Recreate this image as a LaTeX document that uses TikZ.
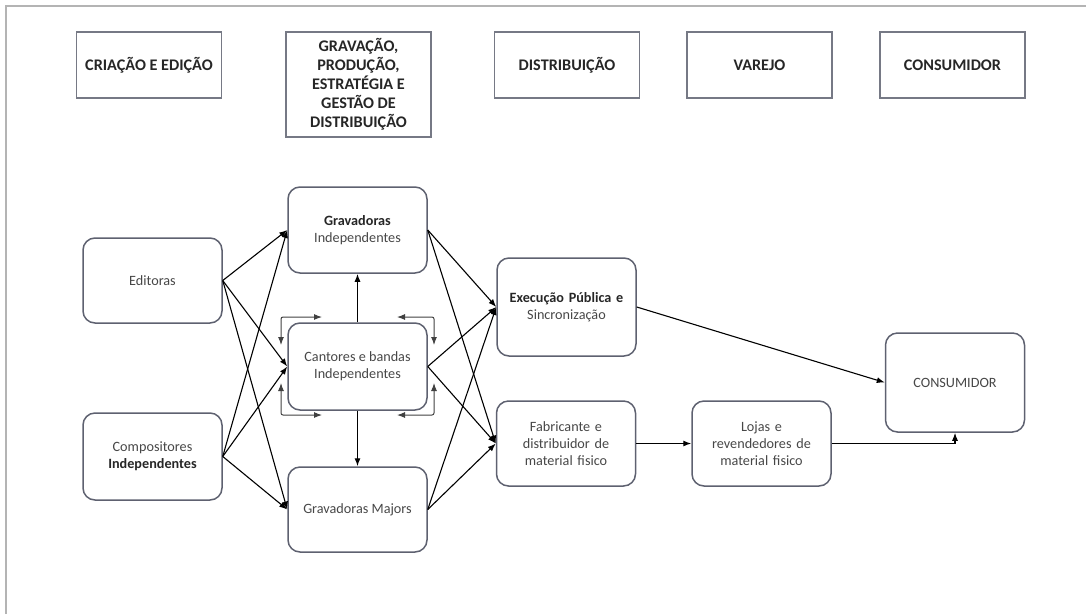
\documentclass[tikz,border=0pt]{standalone}
\usepackage{fontspec}
\setmainfont{Carlito}
\usepackage{xcolor}
\usepackage{tikz}
\usetikzlibrary{arrows.meta}
\usetikzlibrary{positioning}
\usetikzlibrary{calc}
\definecolor{boxgray}{HTML}{5E6170}
\definecolor{txtgray}{HTML}{474747}
\definecolor{framegray}{HTML}{B4B4B4}
\tikzstyle{header}=[rectangle,draw=boxgray!85,line width=1.5pt,minimum width=145pt,minimum height=66pt,inner sep=2pt,align=center,font=\fontsize{16.2}{19}\selectfont\bfseries,text=black!85]
\tikzstyle{stage}=[rectangle,rounded corners=12pt,draw=boxgray,line width=1.5pt,minimum width=139pt,inner sep=2pt,align=center,font=\fontsize{14.2}{17}\selectfont,text=txtgray]
\tikzstyle{edge}=[draw,line width=1.1pt,-{Latex[length=8pt,width=6pt]}]
\tikzstyle{twoway}=[draw=black!75,line width=1pt,rounded corners=2pt,{Latex[length=8pt,width=6pt]}-{Latex[length=8pt,width=6pt]}]
\newcommand{\darkbf}[1]{{\color{black!85}\bfseries #1}}

\begin{document}
\begin{tikzpicture}[x=1pt,y=-1pt]

 \useasboundingbox (0,0) rectangle (1086,614);

 %frame
 \draw[framegray, line width=1.6pt] (6,614) -- (6,6) -- (1086,6);

 %Headers
   \foreach \x/\y/\name/\label in {149/65/hcria/{CRIAÇÃO E EDIÇÃO}, 567/65/hdist/DISTRIBUIÇÃO, 759.5/65/hvar/VAREJO, 952.5/65/hcons/CONSUMIDOR}
          \node[header] (\name) at (\x,\y) {\label};

   \node[header, minimum height=105pt] (hgrav) at (358.5,84.5) {GRAVAÇÃO,\\PRODUÇÃO,\\ESTRATÉGIA E\\GESTÃO DE\\DISTRIBUIÇÃO};

 %Stages
   \foreach \x/\y/\h/\name/\label in {152.5/280.5/85/edit/Editoras, 152.5/456.5/87/comp/{Compositores\\\darkbf{Independentes}},
        357.5/230/86/gind/{\darkbf{Gravadoras}\\Independentes}, 357.5/366.5/87/cant/{Cantores e bandas\\Independentes}, 357.5/509.5/85/gmaj/{Gravadoras Majors}}
          \node[stage, minimum height=\h pt] (\name) at (\x,\y) {\label};

   \foreach \x/\y/\h/\name/\label in {566.5/307/98/exec/{\darkbf{Execução Pública e}\\Sincronização}, 566/443.5/85/fab/{Fabricante e\\distribuidor de\\material fisico},
        761.5/443.5/85/loj/{Lojas e\\revendedores de\\material fisico}, 955/382.5/99/cons/CONSUMIDOR}
          \node[stage, minimum height=\h pt, text width=130pt] (\name) at (\x,\y) {\label};

 %creation to recording
  \foreach \source/ \dest in {edit/gind, edit/cant, edit/gmaj, comp/gind, comp/cant, comp/gmaj}
         \path[edge] (\source.east) -- (\dest.west);

  \path[edge] (cant.north) -- (gind.south);
  \path[edge] (cant.south) -- (gmaj.north);

 %recording to distribution
  \foreach \source/ \dest in {gind/exec, gind/fab, cant/exec, cant/fab, gmaj/exec, gmaj/fab}
         \path[edge] (\source.east) -- (\dest.west);

 %distribution to consumer
  \path[edge] (exec.east) -- (cons.west);
  \path[edge] (fab) -- (loj);
  \path[edge] (loj.east) -| (cons.south);

 %loops round the singers
  \foreach \nm/\cx/\cy/\hx/\vy in {tl/281/317/322/345, tr/434/317/397/345, bl/281/415/322/383, br/434/415/397/383} {
     \coordinate (h\nm) at (\hx,\cy);
     \coordinate (v\nm) at (\cx,\vy);
     \path[twoway] (h\nm) -| (v\nm);
  }

\end{tikzpicture}
\end{document}
